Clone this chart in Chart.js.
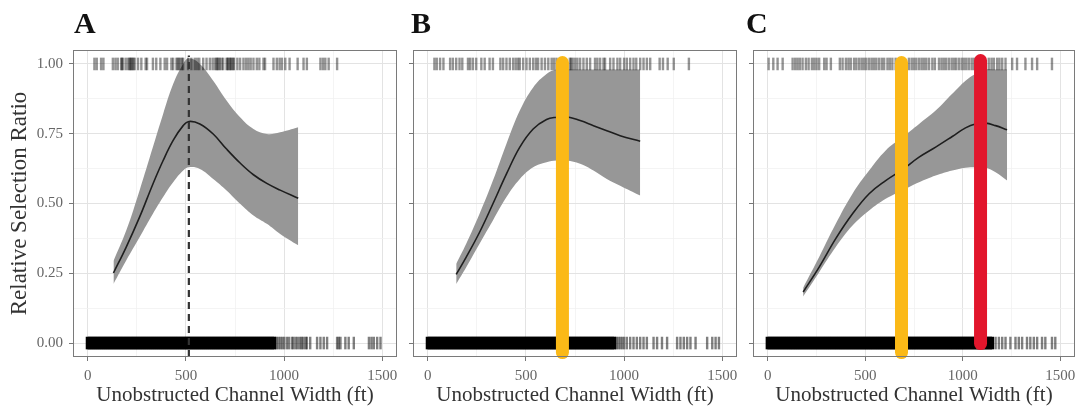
<!DOCTYPE html>
<html><head><meta charset="utf-8">
<script src="https://cdn.jsdelivr.net/npm/chart.js@4.4.1/dist/chart.umd.min.js"></script>
<style>
html,body{margin:0;padding:0;background:#fff;}
#wrap{position:relative;width:1079px;height:408px;overflow:hidden;}
.p{position:absolute;top:0;height:408px;}
canvas{display:block;}
</style></head><body>
<div id="wrap">
<div class="p" style="left:0;width:400px"><canvas id="cA" width="400" height="408"></canvas></div>
<div class="p" style="left:400px;width:340px"><canvas id="cB" width="340" height="408"></canvas></div>
<div class="p" style="left:740px;width:339px"><canvas id="cC" width="339" height="408"></canvas></div>
</div>
<script>
// ---------- labels ----------
const panelLabels = ['A', 'B', 'C'];
const xTitle = 'Unobstructed Channel Width (ft)';
const yTitle = 'Relative Selection Ratio';
const xMajorTicks = [0, 500, 1000, 1500];
const yMajorTicks = [0, 0.25, 0.5, 0.75, 1];

// ---------- fitted curves (x in ft, relative selection ratio) ----------
const curveXA = [131, 196, 264, 332, 384, 435, 486, 516, 571, 639, 707, 776, 844, 912, 980, 1072];
const fitA    = [0.251, 0.344, 0.451, 0.570, 0.654, 0.726, 0.779, 0.794, 0.785, 0.749, 0.695, 0.645, 0.603, 0.572, 0.548, 0.519];
const upperA  = [0.294, 0.403, 0.547, 0.702, 0.821, 0.928, 1.000, 1.020, 1.000, 0.940, 0.869, 0.809, 0.767, 0.749, 0.755, 0.773];
const lowerA  = [0.212, 0.296, 0.379, 0.463, 0.523, 0.576, 0.618, 0.630, 0.624, 0.588, 0.547, 0.499, 0.457, 0.427, 0.391, 0.350];

const curveXB = [145, 196, 264, 332, 401, 469, 537, 605, 656, 707, 776, 844, 912, 980, 1082];
const fitB    = [0.246, 0.308, 0.397, 0.499, 0.606, 0.702, 0.767, 0.801, 0.809, 0.811, 0.797, 0.779, 0.761, 0.743, 0.723];
const upperB  = [0.284, 0.356, 0.463, 0.582, 0.714, 0.833, 0.916, 0.964, 0.980, 0.980, 0.980, 0.980, 0.980, 0.980, 0.980];
const lowerB  = [0.212, 0.272, 0.356, 0.439, 0.523, 0.588, 0.630, 0.648, 0.654, 0.654, 0.642, 0.618, 0.588, 0.564, 0.529];

const curveXC = [182, 264, 349, 435, 520, 605, 690, 776, 861, 946, 1014, 1065, 1116, 1168, 1227];
const fitC    = [0.183, 0.272, 0.374, 0.463, 0.535, 0.582, 0.621, 0.666, 0.702, 0.740, 0.771, 0.785, 0.788, 0.779, 0.764];
const upperC  = [0.198, 0.308, 0.427, 0.535, 0.618, 0.690, 0.737, 0.785, 0.833, 0.893, 0.940, 0.964, 0.980, 0.980, 0.980];
const lowerC  = [0.167, 0.254, 0.344, 0.421, 0.475, 0.517, 0.547, 0.576, 0.600, 0.618, 0.628, 0.630, 0.628, 0.612, 0.582];

// ---------- reference lines ----------
const optimumA = 515;     // dashed line, panel A
const yellowX = 686;      // panels B and C
const redX = 1091;        // panel C

// ---------- observations (rug marks) ----------
const presA = [34, 46, 68, 80, 128, 141, 153, 170, 174, 179, 193, 205, 213, 216, 222, 227, 233, 239, 256, 273, 295, 302, 332, 349, 370, 392, 404, 426, 435, 452, 458, 465, 472, 480, 486, 511, 528, 545, 557, 568, 588, 605, 622, 636, 648, 656, 660, 666, 673, 682, 690, 707, 712, 716, 724, 728, 733, 741, 745, 762, 776, 793, 806, 818, 830, 844, 861, 874, 895, 903, 946, 963, 977, 989, 1006, 1028, 1069, 1099, 1116, 1185, 1198, 1210, 1227, 1270];
const presB = [34, 46, 63, 80, 114, 128, 145, 162, 176, 205, 216, 230, 247, 273, 290, 315, 332, 370, 384, 401, 418, 435, 448, 460, 469, 486, 503, 520, 537, 551, 562, 580, 597, 614, 631, 643, 656, 673, 690, 724, 730, 738, 750, 762, 776, 793, 810, 827, 852, 864, 878, 895, 903, 929, 946, 966, 980, 1000, 1014, 1031, 1048, 1062, 1082, 1099, 1116, 1133, 1181, 1198, 1222, 1253, 1330];
const presC = [5, 29, 51, 77, 128, 141, 153, 165, 179, 196, 210, 227, 239, 251, 264, 290, 302, 324, 370, 384, 401, 414, 426, 443, 455, 469, 482, 494, 506, 520, 533, 545, 557, 571, 585, 597, 614, 626, 639, 656, 724, 738, 750, 762, 776, 789, 801, 813, 827, 844, 857, 878, 891, 903, 915, 929, 943, 955, 966, 980, 994, 1006, 1018, 1031, 1045, 1057, 1069, 1133, 1147, 1159, 1176, 1188, 1202, 1219, 1253, 1278, 1321, 1355, 1381, 1457];

const absDense = [0, 10, 20, 30, 40, 50, 60, 70, 80, 90, 100, 110, 120, 130, 140, 150, 160, 170, 180, 190, 200, 210, 220, 230, 240, 250, 260, 270, 280, 290, 300, 310, 320, 330, 340, 350, 360, 370, 380, 390, 400, 410, 420, 430, 440, 450, 460, 470, 480, 490, 500, 510, 520, 530, 540, 550, 560, 570, 580, 590, 600, 610, 620, 630, 640, 650, 660, 670, 680, 690, 700, 710, 720, 730, 740, 750, 760, 770, 780, 790, 800, 810, 820, 830, 840, 850, 860, 870, 880, 890, 900, 910, 920, 930, 940, 950];
const absDenseC = [960, 970, 980, 990, 1000, 1010, 1020, 1030, 1040, 1050, 1060, 1070, 1080, 1090, 1100, 1110, 1120, 1130, 1140, 1150];
const absTailA = [960, 970, 980, 990, 1000, 1014, 1025, 1040, 1048, 1060, 1070, 1082, 1090, 1099, 1110, 1116, 1133, 1168, 1185, 1202, 1219, 1270, 1278, 1287, 1312, 1329, 1355, 1432, 1445, 1457, 1474, 1491];
const absTailB = [960, 970, 980, 990, 1000, 1014, 1031, 1048, 1065, 1082, 1099, 1116, 1150, 1168, 1193, 1219, 1270, 1287, 1304, 1321, 1338, 1364, 1423, 1449, 1466, 1483];
const absTailC = [1168, 1185, 1202, 1219, 1244, 1270, 1287, 1304, 1329, 1346, 1364, 1381, 1406, 1423, 1457, 1474];

// ---------- styles ----------
const SERIF = "'Liberation Serif', 'Times New Roman', serif";
Chart.defaults.font.family = SERIF;
const YELLOW = '#FBB917';
const RED = '#E2162C';

const pts = (xs, ys) => xs.map((x, i) => ({x: x, y: ys[i]}));
const rug = (xs, y) => xs.map(x => ({x: x, y: y}));

function rugSet(data, color, width, order) {
  return {data, showLine: false, pointStyle: 'line', pointRotation: 90, pointRadius: 6.3,
    pointBorderWidth: width, pointBorderColor: color, pointBackgroundColor: color, order};
}

const framePlugin = {
  id: 'frame',
  afterDraw(chart) {
    const a = chart.chartArea, c = chart.ctx;
    c.save();
    c.strokeStyle = '#7a7a7a'; c.lineWidth = 1;
    c.strokeRect(Math.round(a.left) + 0.5, Math.round(a.top) + 0.5, Math.round(a.right - a.left) - 1, Math.round(a.bottom - a.top) - 1);
    c.restore();
  }
};
const letterPlugin = {
  id: 'letter',
  afterDraw(chart, args, opts) {
    const c = chart.ctx;
    c.save();
    c.font = 'bold 30px ' + SERIF;
    c.fillStyle = '#111';
    c.textAlign = 'left'; c.textBaseline = 'alphabetic';
    c.fillText(opts.text, chart.chartArea.left + opts.dx, 33);
    c.restore();
  }
};

function makePanel(id, cfg) {
  const datasets = [];
  let ord = 0;
  cfg.markers.forEach(m => {
    datasets.push({data: [{x: m.x, y: m.y0}, {x: m.x, y: m.y1}], borderColor: m.color, borderWidth: m.width,
      borderDash: m.dash || [], borderCapStyle: m.dash ? 'butt' : 'round', pointRadius: 0, clip: false, order: ord++});
  });
  datasets.push({data: pts(cfg.cx, cfg.fit), borderColor: '#1e1e1e', borderWidth: 1.6, pointRadius: 0,
    tension: 0.4, order: ord++});
  datasets.push(rugSet(rug(cfg.pres, 1), 'rgba(0,0,0,0.42)', 2.4, ord++));
  datasets.push(rugSet(rug(cfg.absDense, 0), 'rgba(0,0,0,1)', 4, ord++));
  datasets.push(rugSet(rug(cfg.absTail, 0), 'rgba(0,0,0,0.5)', 2.4, ord++));
  datasets.push({data: pts(cfg.cx, cfg.upper), borderWidth: 0, pointRadius: 0, backgroundColor: '#979797',
    fill: '+1', tension: 0.4, order: ord++});
  datasets.push({data: pts(cfg.cx, cfg.lower), borderWidth: 0, pointRadius: 0, fill: false,
    tension: 0.4, order: ord++});

  const major500 = v => Math.abs(v % 500) < 1e-6;
  const major25 = v => Math.abs(v * 4 - Math.round(v * 4)) < 1e-6;

  return new Chart(document.getElementById(id), {
    type: 'line',
    data: {datasets},
    plugins: [framePlugin, letterPlugin],
    options: {
      responsive: false, animation: false, devicePixelRatio: 1,
      layout: {autoPadding: false, padding: {left: 0, right: cfg.padRight, top: 50, bottom: 0}},
      plugins: {legend: {display: false}, tooltip: {enabled: false}, title: {display: false},
        letter: {text: cfg.letter, dx: cfg.letterDx}},
      scales: {
        x: {type: 'linear', min: -75, max: 1575,
          border: {display: false},
          grid: {drawTicks: true, tickLength: 4,
            color: c => (c.tick && major500(c.tick.value)) ? '#e3e3e3' : '#f1f1f1',
            lineWidth: c => (c.tick && major500(c.tick.value)) ? 1 : 0.8,
            tickColor: c => (c.tick && major500(c.tick.value)) ? '#777' : 'rgba(0,0,0,0)'},
          ticks: {stepSize: 250, includeBounds: false, autoSkip: false, maxRotation: 0, padding: 6,
            color: '#666', font: {size: 15, family: SERIF},
            callback: v => xMajorTicks.includes(v) ? String(v) : ''},
          title: {display: true, text: xTitle, color: '#333', font: {size: 21, family: SERIF}, padding: {top: 0, bottom: 0}},
          afterFit: s => { s.height = 51; s.paddingLeft = 0; s.paddingRight = 0; }
        },
        y: {type: 'linear', min: -0.05, max: 1.05,
          border: {display: false},
          grid: {drawTicks: true, tickLength: 4,
            color: c => (c.tick && major25(c.tick.value)) ? '#e3e3e3' : '#f1f1f1',
            lineWidth: c => (c.tick && major25(c.tick.value)) ? 1 : 0.8,
            tickColor: c => (c.tick && major25(c.tick.value)) ? '#777' : 'rgba(0,0,0,0)'},
          ticks: {stepSize: 0.125, includeBounds: false, autoSkip: false, padding: 6, display: cfg.showY,
            color: '#666', font: {size: 15, family: SERIF},
            callback: v => yMajorTicks.some(t => Math.abs(t - v) < 1e-6) ? v.toFixed(2) : ''},
          title: {display: cfg.showY, text: yTitle, color: '#333', font: {size: 23, family: SERIF}, padding: {top: 6, bottom: 0}},
          afterFit: s => { s.width = cfg.yWidth; s.paddingTop = 0; s.paddingBottom = 0; }
        }
      }
    }
  });
}

makePanel('cA', {letter: panelLabels[0], letterDx: 1, showY: true, yWidth: 73, padRight: 3,
  cx: curveXA, fit: fitA, upper: upperA, lower: lowerA, pres: presA, absDense: absDense, absTail: absTailA,
  markers: [{x: optimumA, y0: -0.05, y1: 1.03, color: '#333', width: 2.2, dash: [7, 5]}]});

makePanel('cB', {letter: panelLabels[1], letterDx: -2, showY: false, yWidth: 13, padRight: 3,
  cx: curveXB, fit: fitB, upper: upperB, lower: lowerB, pres: presB, absDense: absDense, absTail: absTailB,
  markers: [{x: yellowX, y0: -0.034, y1: 1.005, color: YELLOW, width: 13}]});

makePanel('cC', {letter: panelLabels[2], letterDx: -7, showY: false, yWidth: 13, padRight: 4,
  cx: curveXC, fit: fitC, upper: upperC, lower: lowerC, pres: presC, absDense: absDense.concat(absDenseC), absTail: absTailC,
  markers: [{x: redX, y0: -0.002, y1: 1.012, color: RED, width: 13},
            {x: yellowX, y0: -0.034, y1: 1.005, color: YELLOW, width: 13}]});
</script>
</body></html>
